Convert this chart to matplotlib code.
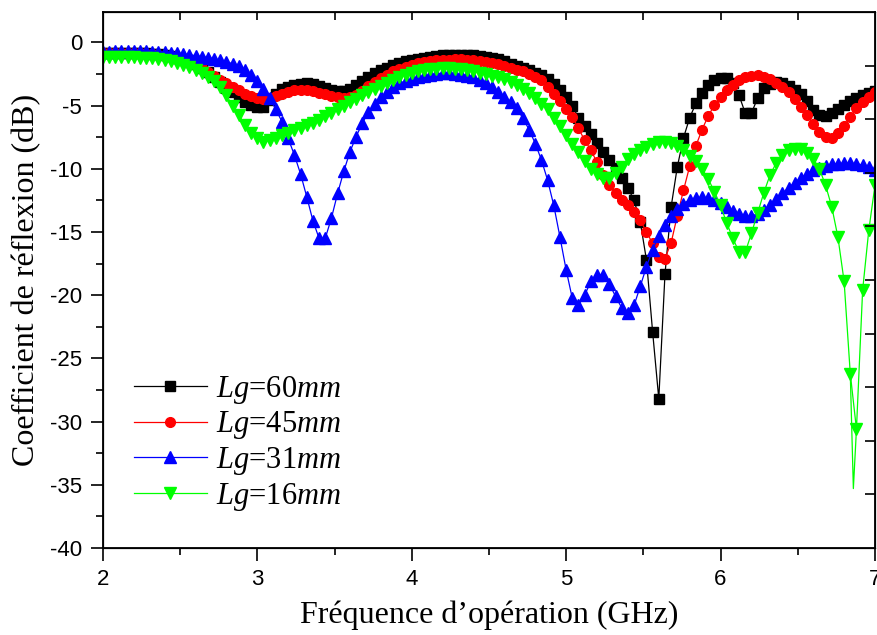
import numpy as np
import matplotlib
matplotlib.use("Agg")
import matplotlib.pyplot as plt

# frequency grid of the simulation (GHz), one marker every 0.04 GHz
freq = np.round(np.linspace(2.0, 7.0, 126), 2)

# S11 (dB), rows of 10 points (0.4 GHz each)
lg60 = [-0.80, -0.80, -0.80, -0.80, -0.80, -0.80, -0.82, -0.85, -0.90, -0.95,
        -1.00, -1.10, -1.20, -1.35, -1.50, -1.70, -2.00, -2.35, -2.75, -3.15,
        -3.60, -3.95, -4.35, -4.70, -4.95, -5.15, -5.15, -4.55, -4.05, -3.70,
        -3.50, -3.35, -3.28, -3.25, -3.30, -3.42, -3.58, -3.75, -3.87, -3.85,
        -3.70, -3.40, -3.05, -2.75, -2.45, -2.20, -2.00, -1.80, -1.65, -1.50,
        -1.40, -1.30, -1.20, -1.12, -1.06, -1.02, -1.00, -0.98, -0.98, -1.00,
        -1.02, -1.06, -1.12, -1.20, -1.32, -1.50, -1.70, -1.85, -2.00, -2.20,
        -2.40, -2.60, -2.90, -3.30, -3.75, -4.35, -5.05, -5.95, -6.60, -7.25,
        -7.95, -8.65, -9.30, -9.90, -10.70, -11.50, -12.50, -14.20, -17.20, -22.90,
        -28.20, -18.35, -13.00, -9.84, -7.55, -5.96, -4.83, -3.98, -3.38, -2.98,
        -2.85, -2.85, -3.20, -4.20, -5.60, -5.60, -4.40, -3.60, -3.30, -3.10,
        -3.25, -3.45, -3.75, -4.05, -4.60, -5.35, -5.75, -5.80, -5.55, -5.25,
        -4.95, -4.65, -4.40, -4.20, -4.00, -3.85]

lg45 = [-0.80, -0.80, -0.80, -0.80, -0.80, -0.80, -0.85, -0.90, -0.95, -1.00,
        -1.08, -1.18, -1.30, -1.45, -1.60, -1.80, -2.05, -2.35, -2.65, -2.95,
        -3.25, -3.50, -3.80, -4.05, -4.25, -4.40, -4.45, -4.40, -4.25, -4.05,
        -3.90, -3.80, -3.75, -3.77, -3.85, -3.98, -4.10, -4.25, -4.35, -4.40,
        -4.35, -4.15, -3.85, -3.45, -3.10, -2.80, -2.55, -2.30, -2.10, -1.92,
        -1.78, -1.65, -1.55, -1.47, -1.42, -1.38, -1.36, -1.35, -1.35, -1.37,
        -1.40, -1.45, -1.52, -1.62, -1.72, -1.85, -2.00, -2.15, -2.30, -2.50,
        -2.75, -3.00, -3.50, -4.10, -4.65, -5.25, -5.90, -6.80, -7.75, -8.50,
        -9.50, -10.50, -11.30, -11.90, -12.50, -12.90, -13.40, -14.05, -15.00, -15.90,
        -17.00, -17.10, -15.85, -13.70, -11.70, -9.80, -8.20, -6.90, -5.83, -4.96,
        -4.30, -3.77, -3.38, -3.00, -2.75, -2.62, -2.60, -2.70, -2.90, -3.20,
        -3.55, -3.95, -4.50, -5.10, -5.75, -6.45, -7.10, -7.50, -7.60, -7.20,
        -6.60, -5.90, -5.20, -4.70, -4.30, -3.90]

lg31 = [-0.75, -0.72, -0.70, -0.70, -0.68, -0.68, -0.68, -0.70, -0.72, -0.75,
        -0.78, -0.82, -0.87, -0.92, -0.98, -1.05, -1.12, -1.20, -1.30, -1.42,
        -1.55, -1.68, -1.85, -2.15, -2.55, -3.05, -3.70, -4.43, -5.30, -6.28,
        -7.60, -8.90, -10.40, -12.20, -14.10, -15.50, -15.50, -13.90, -11.95, -10.20,
        -8.66, -7.45, -6.40, -5.50, -4.90, -4.35, -3.90, -3.50, -3.25, -3.05,
        -2.90, -2.75, -2.65, -2.55, -2.50, -2.45, -2.45, -2.50, -2.55, -2.62,
        -2.72, -2.95, -3.25, -3.55, -3.95, -4.35, -4.70, -5.20, -6.00, -6.90,
        -8.00, -9.30, -10.90, -12.90, -15.40, -18.00, -20.25, -20.80, -20.00, -18.90,
        -18.40, -18.40, -19.10, -20.10, -21.00, -21.40, -20.80, -19.30, -17.75, -16.40,
        -15.30, -14.45, -13.70, -13.20, -12.75, -12.45, -12.30, -12.25, -12.30, -12.45,
        -12.70, -13.00, -13.30, -13.55, -13.75, -13.75, -13.55, -13.25, -12.85, -12.40,
        -11.95, -11.50, -11.10, -10.70, -10.40, -10.10, -9.90, -9.75, -9.65, -9.60,
        -9.55, -9.55, -9.60, -9.70, -9.85, -10.10]

lg16 = [-1.15, -1.15, -1.15, -1.15, -1.15, -1.17, -1.20, -1.23, -1.27, -1.32,
        -1.40, -1.50, -1.60, -1.75, -1.93, -2.15, -2.40, -2.70, -3.05, -3.50,
        -4.20, -5.00, -5.75, -6.50, -7.15, -7.60, -7.85, -7.75, -7.55, -7.35,
        -7.15, -6.95, -6.75, -6.55, -6.35, -6.10, -5.85, -5.60, -5.30, -5.00,
        -4.70, -4.45, -4.20, -3.95, -3.70, -3.45, -3.20, -2.95, -2.75, -2.55,
        -2.40, -2.30, -2.20, -2.12, -2.08, -2.05, -2.05, -2.08, -2.12, -2.20,
        -2.30, -2.40, -2.50, -2.62, -2.75, -2.90, -3.10, -3.35, -3.65, -4.00,
        -4.40, -4.85, -5.30, -5.95, -6.65, -7.35, -8.05, -8.70, -9.40, -10.00,
        -10.45, -10.75, -10.75, -10.35, -9.85, -9.25, -8.85, -8.50, -8.25, -8.05,
        -7.90, -7.85, -7.95, -8.20, -8.55, -8.95, -9.40, -10.00, -10.80, -11.80,
        -12.90, -14.30, -15.50, -16.60, -16.60, -15.10, -13.50, -11.90, -10.50, -9.55,
        -8.90, -8.55, -8.40, -8.45, -8.75, -9.20, -10.00, -11.30, -13.00, -15.40,
        -18.90, -26.20, -30.60, -19.60, -14.85, -11.30]

# deepest point of the Lg=16mm resonance (line only, no marker)
spike_f = 6.86
spike_db = -35.3

series = [
    (lg60, "60", "#000000", "s", 6.5),
    (lg45, "45", "#ff0000", "o", 7.0),
    (lg31, "31", "#0000ff", "^", 8.0),
    (lg16, "16", "#00ff00", "v", 8.0),
]

plt.rcParams["mathtext.fontset"] = "custom"
plt.rcParams["mathtext.rm"] = "Liberation Serif"
plt.rcParams["mathtext.it"] = "Liberation Serif:italic"
plt.rcParams["axes.unicode_minus"] = False

fig = plt.figure(figsize=(8.77, 6.35), dpi=100)
ax = fig.add_axes([0.1173, 0.137, 0.8804, 0.844])

for vals, lg, col, mk, ms in series:
    ax.plot(freq, vals, color=col, lw=0.9, marker=mk, ms=ms, mec=col, mfc=col,
            label=r"$Lg$=" + lg + r"$mm$")

# the resonance dip between two markers
i = int(np.searchsorted(freq, spike_f))
ax.plot([freq[i - 1], spike_f, freq[i]], [lg16[i - 1], spike_db, lg16[i]],
        color="#00ff00", lw=0.9)

ax.set_xlim(2, 7)
ax.set_ylim(-40, 2.4)
ax.set_xticks(np.arange(2, 7.01, 1))
ax.set_xticks(np.arange(2.5, 7, 1), minor=True)
ax.set_yticks(np.arange(-40, 0.1, 5))
ax.set_yticks(np.arange(-37.5, 0, 5), minor=True)
ax.tick_params(which="major", direction="out", length=9, width=1.2, pad=6,
               labelsize=16)
ax.tick_params(which="minor", direction="out", length=5, width=1.2)
for lab in ax.get_xticklabels() + ax.get_yticklabels():
    lab.set_fontfamily("Liberation Sans")

for sp in ax.spines.values():
    sp.set_linewidth(1.3)

# unlabelled inward ticks on the top and right edges, every tenth of the frame
tx = ax.twiny()
tx.set_xlim(0, 1)
tx.set_xticks(np.arange(0.1, 0.95, 0.1))
tx.tick_params(direction="in", length=6, width=1.2, labeltop=False)
ty = ax.twinx()
ty.set_ylim(0, 1)
ty.set_yticks(np.arange(0.1, 0.95, 0.1))
ty.tick_params(direction="in", length=7, width=1.2, labelright=False)

ax.set_xlabel("Fréquence d’opération (GHz)", family="Liberation Serif",
              fontsize=23, labelpad=8)
ax.set_ylabel("Coefficient de réflexion (dB)", family="Liberation Serif",
              fontsize=23, labelpad=6)

leg = ax.legend(loc="upper left", bbox_to_anchor=(0.04, 0.325), frameon=False,
                prop={"family": "Liberation Serif", "size": 22}, numpoints=1,
                handlelength=2.4, handletextpad=0.3, labelspacing=0.12,
                borderpad=0, borderaxespad=0)

fig.savefig("out.png", dpi=100)
